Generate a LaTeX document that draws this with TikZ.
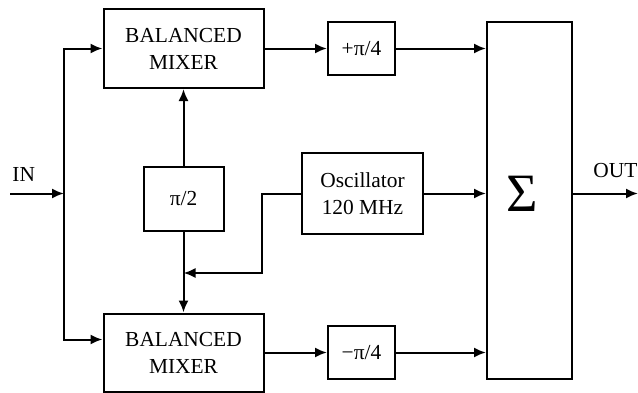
\documentclass[tikz,border=0pt]{standalone}
\usepackage{fontspec}
\setmainfont{Liberation Serif}
\usetikzlibrary{arrows.meta}
\begin{document}
\begin{tikzpicture}[x=0.5pt, y=-0.5pt,
    block/.style={draw, line width=1pt, align=center, inner sep=0pt},
    arr/.style={line width=1pt, -{Latex[length=6pt,width=5pt]}}]
    \fontsize{10.7}{13.5}\selectfont
    \useasboundingbox (0,0) rectangle (638,392);
    % blocks
    \node[block, minimum width=80pt, minimum height=39.5pt] (mixt) at (183.5,48.5) {BALANCED\\MIXER};
    \node[block, minimum width=80pt, minimum height=39pt] (mixb) at (183.5,352.5) {BALANCED\\MIXER};
    \node[block, minimum width=40pt, minimum height=32pt] (pi2) at (183.5,199) {π/2};
    \node[block, minimum width=60.5pt, minimum height=40.5pt] (osc) at (362.5,193.5) {Oscillator\\120 MHz};
    \node[block, minimum width=33.5pt, minimum height=26.5pt] (pt) at (361.5,48.5) {+π/4};
    \node[block, minimum width=33.5pt, minimum height=26.5pt] (pb) at (361.5,352.5) {−π/4};
    \node[block, minimum width=42.5pt, minimum height=178.5pt] (sum) at (529.5,200.5) {};
    \node[inner sep=0pt] (sigma) at (522,194) {\fontsize{27}{30}\selectfont Σ};
    \node[anchor=base west, inner sep=0pt] (inlabel) at (12,181) {IN};
    \node[anchor=base west, inner sep=0pt] (outlabel) at (593,177) {OUT};
    % connectors
    \coordinate (in) at (10,193.5);
    \coordinate (split) at (64,193.5);
    \coordinate (lo) at (183.5,273);
    \coordinate (out) at (638,193.5);
    \draw[arr] (in) -- (split);
    \draw[arr] (split) |- (mixt.west);
    \draw[arr] (split) |- ([yshift=6.5pt]mixb.west);
    \draw[arr] (pi2.north) -- (mixt.south);
    \draw[arr] (pi2.south) -- (mixb.north);
    \draw[arr] (osc.west) -- ++(-39,0) |- (lo);
    \draw[arr] (mixt.east) -- (pt.west);
    \draw[arr] (mixb.east) -- (pb.west);
    \draw[arr] (pt.east) -- (pt.east -| sum.west);
    \draw[arr] (osc.east) -- (osc.east -| sum.west);
    \draw[arr] (pb.east) -- (pb.east -| sum.west);
    \draw[arr] (osc.east -| sum.east) -- (out);
\end{tikzpicture}
\end{document}
